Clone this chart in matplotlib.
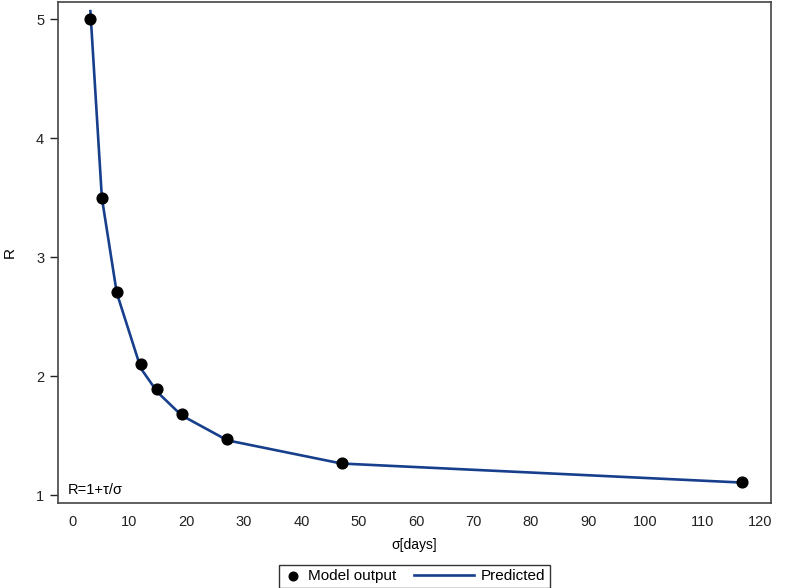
import matplotlib.pyplot as plt
from matplotlib.legend_handler import HandlerLine2D

plt.rcParams['font.family'] = ['Liberation Sans', 'DejaVu Sans']

# model output points
sigma = [3.2, 5.2, 7.8, 12.0, 14.9, 19.1, 27.1, 47.0, 116.8]
r_model = [5.0, 3.5, 2.71, 2.105, 1.895, 1.685, 1.475, 1.267, 1.107]
# predicted curve, read at the same sigma values
r_pred = [5.07, 3.5, 2.70, 2.065, 1.865, 1.67, 1.46, 1.265, 1.105]

xticks = list(range(0, 121, 10))
yticks = [1, 2, 3, 4, 5]

navy = '#173f8c'


class LongLine(HandlerLine2D):
    # stretch the line handle to the left into the column gap
    def __init__(self, extra, **kw):
        super().__init__(**kw)
        self.extra = extra

    def create_artists(self, legend, orig_handle, xdescent, ydescent, width,
                       height, fontsize, trans):
        return super().create_artists(legend, orig_handle, xdescent + self.extra, ydescent,
                                      width + self.extra, height, fontsize, trans)


fig = plt.figure(figsize=(7.86, 5.88), dpi=100)
ax = fig.add_axes([58/786, 85/588, 713/786, 501/588])

line, = ax.plot(sigma, r_pred, color=navy, lw=1.9, zorder=2, label='Predicted')
pts = ax.scatter(sigma, r_model, s=60, color='black', zorder=3, label='Model output')

ax.set_xlim(-2.45, 121.9)
ax.set_ylim(0.933, 5.147)
ax.set_xticks(xticks)
ax.set_yticks(yticks)
ax.tick_params(axis='x', length=0, pad=9, labelsize=10.5, colors='#222222')
ax.tick_params(axis='y', length=6, width=1, pad=4, labelsize=10.5, colors='#222222')
for s in ax.spines.values():
    s.set_color('#444444')
    s.set_linewidth(1.2)

ax.set_xlabel('σ[days]', fontsize=10, labelpad=6)
ax.set_ylabel('R', fontsize=11, labelpad=14)

ax.text(0.013, 0.012, 'R=1+τ/σ', transform=ax.transAxes, fontsize=10.5,
        ha='left', va='bottom')

leg = ax.legend(handles=[pts, line], loc='upper center', bbox_to_anchor=(0.5, -0.108),
                ncol=2, frameon=True, fancybox=False, edgecolor='black',
                fontsize=11, handlelength=1.2, columnspacing=3.9,
                borderpad=0.3, handletextpad=0.4, markerscale=0.8,
                handler_map={line: LongLine(30)})
leg.get_frame().set_linewidth(1.0)

fig.savefig('out.png', dpi=100)
